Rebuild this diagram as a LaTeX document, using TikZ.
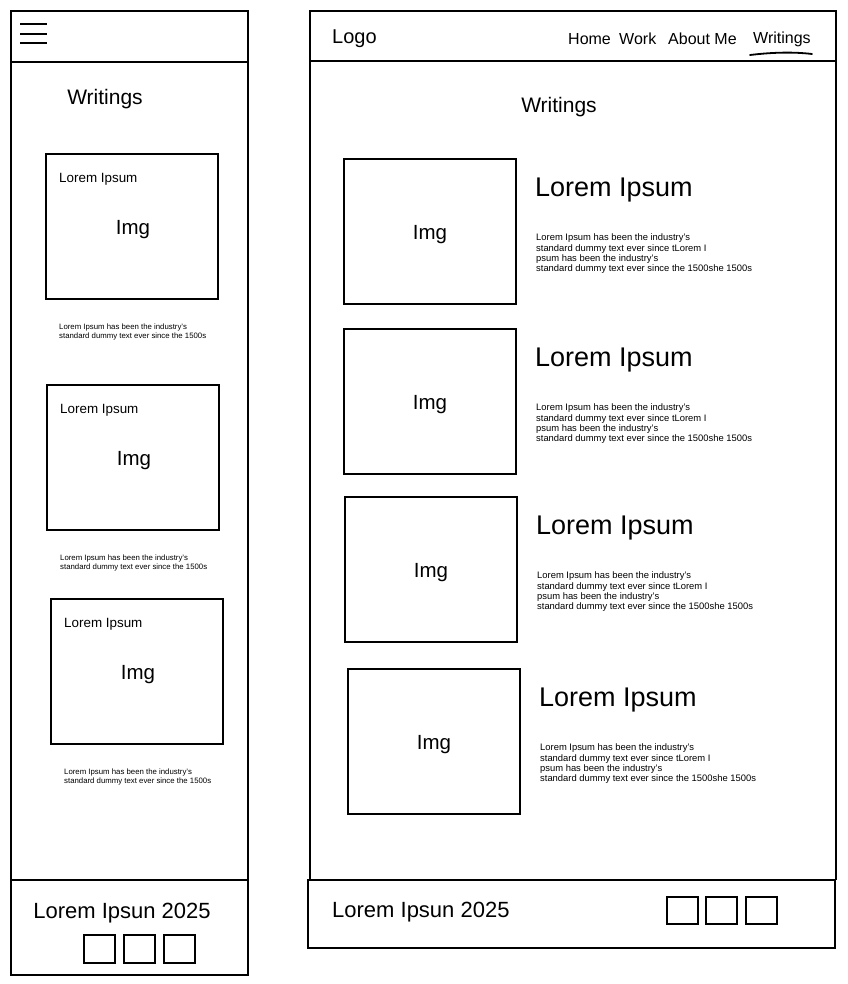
\documentclass[tikz,border=0pt]{standalone}
\usepackage{fontspec}
\setmainfont{Liberation Sans}

\begin{document}
\begin{tikzpicture}[x=1pt, y=-1pt,
    frame/.style={draw, line width=1.6pt},
    card/.style={draw, line width=1.2pt},
    bar/.style={line width=2.2pt},
    txt/.style={inner sep=0pt, anchor=west},
    navitem/.style={txt, font=\fontsize{16}{19}\selectfont},
    small/.style={txt, align=left, font=\fontsize{9.4}{10.3}\selectfont},
    tiny/.style={txt, align=left, font=\fontsize{7.8}{9.6}\selectfont}]
    \useasboundingbox (0,0) rectangle (847,984);

    % Mobil: marc, capcalera i peu
    \draw[frame] (11,11) rectangle (248,975);
    \draw[bar] (11,62) -- (248,62);
    \draw[bar] (11,880) -- (248,880);
    \foreach \hy in {24,34,43}
        \draw[line width=1.2pt] (20,\hy) -- (47,\hy); % menu
    \node[font=\fontsize{21}{24}\selectfont] (mtitle) at (105,99) {Writings};

    \foreach \n/\bx/\by in {1/46/154, 2/47/385, 3/51/599} {
        \draw[card] (\bx,\by) rectangle ++(172,145);
        \node[txt, font=\fontsize{13.4}{16}\selectfont] (mhead\n) at (\bx+13,\by+25) {Lorem Ipsum};
        \node[font=\fontsize{20.5}{24}\selectfont] (mimg\n) at (\bx+87,\by+76) {Img};
        \node[tiny] (mtext\n) at (\bx+13,\by+178) {Lorem Ipsum has been the industry's\\standard dummy text ever since the 1500s};
    }

    \node[font=\fontsize{22}{26}\selectfont] (mfoot) at (122,913) {Lorem Ipsun 2025};
    \foreach \n/\sx in {1/84, 2/124, 3/164}
        \draw[card] (\sx,935) rectangle ++(31,28);

    % Escriptori: marc i capcalera
    \draw[frame] (310,880) -- (310,11) -- (836,11) -- (836,880);
    \draw[bar] (310,61) -- (836,61);
    \node[txt, font=\fontsize{20}{24}\selectfont] (logo) at (332,39) {Logo};
    \node[navitem] (home) at (568,39) {Home};
    \node[navitem] (work) at (619,39) {Work};
    \node[navitem] (about) at (668,39) {About Me};
    \node[navitem] (writ) at (753,39) {Writings};
    \draw[line width=1.8pt, line cap=round] (750,55) .. controls (775,52) and (795,52) .. (812,54);
    \node[font=\fontsize{21}{24}\selectfont] (dtitle) at (559,107) {Writings};

    \foreach \n/\bx/\by in {1/344/159, 2/344/329, 3/345/497, 4/348/669} {
        \draw[card] (\bx,\by) rectangle ++(172,145);
        \node[font=\fontsize{20.5}{24}\selectfont] (dimg\n) at (\bx+86,\by+76) {Img};
        \node[txt, font=\fontsize{27}{32}\selectfont] (dhead\n) at (\bx+191,\by+31) {Lorem Ipsum};
        \node[small] (dtext\n) at (\bx+192,\by+95) {Lorem Ipsum has been the industry's\\standard dummy text ever since tLorem I\\psum has been the industry's\\standard dummy text ever since the 1500she 1500s};
    }

    % Peu
    \draw[frame] (308,880) rectangle (835,948);
    \node[txt, font=\fontsize{22}{26}\selectfont] (dfoot) at (332,912) {Lorem Ipsun 2025};
    \foreach \n/\sx in {1/667, 2/706, 3/746}
        \draw[card] (\sx,897) rectangle ++(31,27);
\end{tikzpicture}
\end{document}
